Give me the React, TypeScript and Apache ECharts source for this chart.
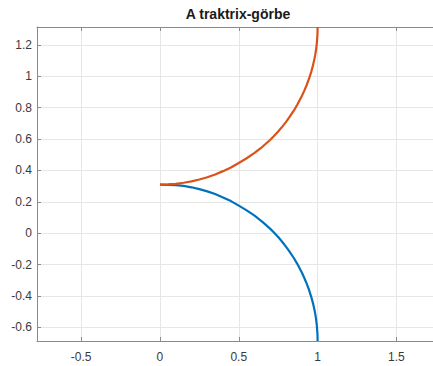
import React, { useEffect, useRef } from "react";
import * as echarts from "echarts";

const titleText = "A traktrix-görbe";
const xValues = [
  0, 0.05, 0.1, 0.15, 0.2, 0.25, 0.3, 0.35, 0.4, 0.45, 0.5, 0.55, 0.6, 0.65, 0.7, 0.72, 0.75, 0.78, 0.8,
  0.82, 0.85, 0.87, 0.9, 0.915, 0.93, 0.945, 0.96, 0.97, 0.98, 0.985, 0.99, 0.995, 0.999, 1.0,
];
const lowerY = [
  0.31, 0.309, 0.307, 0.302, 0.293, 0.281, 0.267, 0.25, 0.228, 0.205, 0.176, 0.146, 0.112, 0.073, 0.028,
  0.008, -0.024, -0.06, -0.086, -0.114, -0.159, -0.193, -0.25, -0.283, -0.319, -0.359, -0.406, -0.443,
  -0.487, -0.513, -0.545, -0.586, -0.64, -0.686,
];
const upperY = [
  0.31, 0.312, 0.315, 0.322, 0.331, 0.343, 0.357, 0.374, 0.396, 0.419, 0.448, 0.478, 0.512, 0.551, 0.596,
  0.616, 0.648, 0.684, 0.71, 0.738, 0.783, 0.817, 0.874, 0.907, 0.943, 0.983, 1.03, 1.067, 1.111, 1.137,
  1.169, 1.21, 1.264, 1.314,
];
const xRange = [-0.78, 1.77];
const yRange = [-0.686, 1.314];

const FONT = "'Liberation Sans', Arial, sans-serif";

function isMultiple(v: number, step: number) {
  const r = v / step;
  return Math.abs(r - Math.round(r)) < 1e-6;
}

export default function App() {
  const ref = useRef<HTMLDivElement>(null);
  useEffect(() => {
    if (!ref.current) return;
    const chart = echarts.init(ref.current, undefined, { renderer: "svg" });
    const lower = xValues.map((x, i) => [x, lowerY[i]]);
    const upper = xValues.map((x, i) => [x, upperY[i]]);
    const axisColor = "#8a8a8a";
    const labelColor = "#3a3a3a";
    chart.setOption({
      animation: false,
      backgroundColor: "#ffffff",
      graphic: [
        {
          type: "text",
          x: 238,
          y: 14,
          style: {
            text: titleText,
            fill: "#1a1a1a",
            font: `bold 14px ${FONT}`,
            align: "center",
            verticalAlign: "middle",
          },
        },
      ],
      grid: { left: 37, top: 27, bottom: 25, right: 1, containLabel: false },
      xAxis: [
        {
          type: "value",
          min: xRange[0],
          max: xRange[1],
          splitNumber: 5,
          axisLine: { show: true, onZero: false, lineStyle: { color: axisColor, width: 1 } },
          axisTick: { show: true, inside: true, length: 4, lineStyle: { color: axisColor } },
          axisLabel: {
            color: labelColor,
            fontSize: 12,
            fontFamily: FONT,
            margin: 10,
            showMinLabel: false,
            showMaxLabel: false,
            formatter: (v: number) => (isMultiple(v, 0.5) ? String(Math.round(v * 10) / 10) : ""),
          },
          splitLine: { show: true, lineStyle: { color: "#e6e6e6", width: 1 } },
        },
        {
          type: "value",
          position: "top",
          min: xRange[0],
          max: xRange[1],
          splitNumber: 5,
          axisLine: { show: true, onZero: false, lineStyle: { color: axisColor, width: 1 } },
          axisTick: { show: true, inside: true, length: 4, lineStyle: { color: axisColor } },
          axisLabel: { show: false },
          splitLine: { show: false },
        },
      ],
      yAxis: {
        type: "value",
        min: yRange[0],
        max: yRange[1],
        splitNumber: 10,
        axisLine: { show: true, onZero: false, lineStyle: { color: axisColor, width: 1 } },
        axisTick: { show: true, inside: true, length: 4, lineStyle: { color: axisColor } },
        axisLabel: {
          color: labelColor,
          fontSize: 12,
          fontFamily: FONT,
          margin: 5,
          showMinLabel: false,
          showMaxLabel: false,
          formatter: (v: number) => (isMultiple(v, 0.2) ? String(Math.round(v * 10) / 10) : ""),
        },
        splitLine: { show: true, lineStyle: { color: "#e6e6e6", width: 1 } },
      },
      series: [
        {
          type: "line",
          data: lower,
          showSymbol: false,
          smooth: false,
          lineStyle: { color: "#0072BD", width: 2.2 },
          itemStyle: { color: "#0072BD" },
          clip: true,
        },
        {
          type: "line",
          data: upper,
          showSymbol: false,
          smooth: false,
          lineStyle: { color: "#D95319", width: 2.2 },
          itemStyle: { color: "#D95319" },
          clip: true,
        },
      ],
    });
    return () => chart.dispose();
  }, []);
  return (
    <div style={{ position: "fixed", left: 0, top: 0, width: 433, height: 366, overflow: "hidden", background: "#fff" }}>
      <div ref={ref} style={{ width: 440, height: 366 }} />
    </div>
  );
}
